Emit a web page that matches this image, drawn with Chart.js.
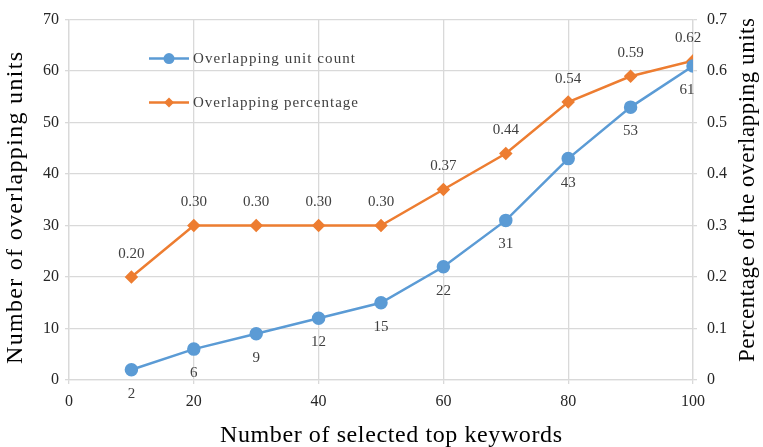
<!DOCTYPE html>
<html>
<head>
<meta charset="utf-8">
<script src="https://cdn.jsdelivr.net/npm/chart.js@4/dist/chart.umd.min.js"></script>
<style>
  html, body { margin: 0; padding: 0; background: #fff; }
  #wrap { width: 763px; height: 447px; }
</style>
</head>
<body>
<div id="wrap"><canvas id="c" width="763" height="447"></canvas></div>
<script>
// Number of selected top keywords
const keywordCounts = [10, 20, 30, 40, 50, 60, 70, 80, 90, 100];
// Overlapping unit count (left axis)
const unitCounts = [2, 6, 9, 12, 15, 22, 31, 43, 53, 61];
// Overlapping percentage (right axis)
const overlapPct = [0.20, 0.30, 0.30, 0.30, 0.30, 0.37, 0.44, 0.54, 0.59, 0.62];

const xTicks = [0, 20, 40, 60, 80, 100];
const leftTicks = [0, 10, 20, 30, 40, 50, 60, 70];
const rightTicks = [0, 0.1, 0.2, 0.3, 0.4, 0.5, 0.6, 0.7];

const xTitle = 'Number of selected top keywords';
const leftTitle = 'Number of overlapping units';
const rightTitle = 'Percentage of the overlapping units';

const BLUE = '#5b9bd5';
const ORANGE = '#ed7d31';
const FONT = '"Liberation Serif", "Times New Roman", serif';
const GRID = '#d9d9d9';

// Draws text centred on (cx, cy), spread out with letter spacing to a given length
function spreadText(ctx, text, cx, cy, length) {
  ctx.letterSpacing = '0px';
  const w = ctx.measureText(text).width;
  const sp = Math.max(0, (length - w) / (text.length - 1));
  ctx.letterSpacing = sp + 'px';
  ctx.textAlign = 'left';
  ctx.fillText(text, cx - length / 2, cy);
  ctx.letterSpacing = '0px';
}

// Axis titles (both vertical titles read bottom-to-top)
const axisTitles = {
  id: 'axisTitles',
  afterDraw(chart) {
    const ctx = chart.ctx;
    ctx.save();
    ctx.fillStyle = '#000';
    ctx.textBaseline = 'middle';

    ctx.font = '24px ' + FONT;
    spreadText(ctx, xTitle, 391, 436, 342);

    ctx.save();
    ctx.translate(16, 208);
    ctx.rotate(-Math.PI / 2);
    spreadText(ctx, leftTitle, 0, 0, 312);
    ctx.restore();

    ctx.save();
    ctx.font = '23px ' + FONT;
    ctx.translate(748, 190);
    ctx.rotate(-Math.PI / 2);
    spreadText(ctx, rightTitle, 0, 0, 344);
    ctx.restore();

    ctx.restore();
  }
};

// Value labels: count series below its points, percentage series above
const valueLabels = {
  id: 'valueLabels',
  afterDatasetsDraw(chart) {
    const ctx = chart.ctx;
    ctx.save();
    ctx.font = '15px ' + FONT;
    ctx.fillStyle = '#404040';
    ctx.textAlign = 'center';
    ctx.textBaseline = 'middle';
    chart.data.datasets.forEach((ds, di) => {
      const meta = chart.getDatasetMeta(di);
      meta.data.forEach((pt, i) => {
        const v = ds.data[i].y;
        const last = i === ds.data.length - 1;
        let text, dx = 0, dy;
        if (di === 0) {
          text = String(v);
          dy = 24;
          if (last) dx = -6;
        } else {
          text = v.toFixed(2);
          dy = -23;
          if (last) dx = -5;
        }
        ctx.fillText(text, pt.x + dx, pt.y + dy);
      });
    });
    ctx.restore();
  }
};

// Legend drawn inside the plot area
const innerLegend = {
  id: 'innerLegend',
  afterDraw(chart) {
    const ctx = chart.ctx;
    const area = chart.chartArea;
    ctx.save();
    ctx.font = '15px ' + FONT;
    ctx.textBaseline = 'middle';
    const widths = [162, 165];
    chart.data.datasets.forEach((ds, i) => {
      const x0 = area.left + 80;
      const y = area.top + 39 + i * 44;
      ctx.strokeStyle = ds.borderColor;
      ctx.lineWidth = 2.5;
      ctx.beginPath();
      ctx.moveTo(x0, y);
      ctx.lineTo(x0 + 40, y);
      ctx.stroke();
      ctx.fillStyle = ds.borderColor;
      ctx.beginPath();
      if (ds.pointStyle === 'circle') {
        ctx.arc(x0 + 20, y, 5.5, 0, Math.PI * 2);
      } else {
        const r = 5;
        ctx.moveTo(x0 + 20, y - r);
        ctx.lineTo(x0 + 20 + r, y);
        ctx.lineTo(x0 + 20, y + r);
        ctx.lineTo(x0 + 20 - r, y);
        ctx.closePath();
      }
      ctx.fill();
      ctx.fillStyle = '#404040';
      spreadText(ctx, ds.label, x0 + 44 + widths[i] / 2, y, widths[i]);
    });
    ctx.restore();
  }
};

new Chart(document.getElementById('c'), {
  type: 'line',
  data: {
    datasets: [
      {
        label: 'Overlapping unit count',
        data: keywordCounts.map((k, i) => ({ x: k, y: unitCounts[i] })),
        borderColor: BLUE,
        backgroundColor: BLUE,
        borderWidth: 2.5,
        pointStyle: 'circle',
        pointRadius: 5.5,
        pointHoverRadius: 5.5,
        yAxisID: 'y',
        tension: 0
      },
      {
        label: 'Overlapping percentage',
        data: keywordCounts.map((k, i) => ({ x: k, y: overlapPct[i] })),
        borderColor: ORANGE,
        backgroundColor: ORANGE,
        borderWidth: 2.5,
        pointStyle: 'rectRot',
        pointRadius: 5,
        pointHoverRadius: 5,
        yAxisID: 'y1',
        tension: 0
      }
    ]
  },
  options: {
    responsive: false,
    animation: false,
    devicePixelRatio: 1,
    layout: { padding: { top: 17, left: 0, right: 0, bottom: 0 } },
    plugins: {
      legend: { display: false },
      tooltip: { enabled: false }
    },
    scales: {
      x: {
        type: 'linear',
        min: 0,
        max: 100,
        afterBuildTicks(axis) { axis.ticks = xTicks.map(v => ({ value: v })); },
        afterFit(axis) { axis.height = 67; },
        grid: { color: GRID, lineWidth: 1.3, tickLength: 4 },
        border: { color: GRID, width: 1.3 },
        ticks: { font: { family: FONT, size: 16 }, color: '#262626', padding: 8, maxRotation: 0 }
      },
      y: {
        position: 'left',
        min: 0,
        max: 70,
        afterBuildTicks(axis) { axis.ticks = leftTicks.map(v => ({ value: v })); },
        afterFit(axis) { axis.width = 69; },
        grid: { color: GRID, lineWidth: 1.3, tickLength: 4 },
        border: { color: GRID, width: 1.3 },
        ticks: { font: { family: FONT, size: 16 }, color: '#262626', padding: 6 }
      },
      y1: {
        position: 'right',
        min: 0,
        max: 0.7,
        afterBuildTicks(axis) { axis.ticks = rightTicks.map(v => ({ value: v })); },
        afterFit(axis) { axis.width = 70; },
        grid: { drawOnChartArea: false, color: GRID, lineWidth: 1.3, tickLength: 4 },
        border: { color: GRID, width: 1.3 },
        ticks: {
          font: { family: FONT, size: 16 },
          color: '#262626',
          padding: 10,
          callback: v => (v === 0 ? '0' : String(Math.round(v * 10) / 10))
        }
      }
    }
  },
  plugins: [valueLabels, innerLegend, axisTitles]
});
</script>
</body>
</html>
